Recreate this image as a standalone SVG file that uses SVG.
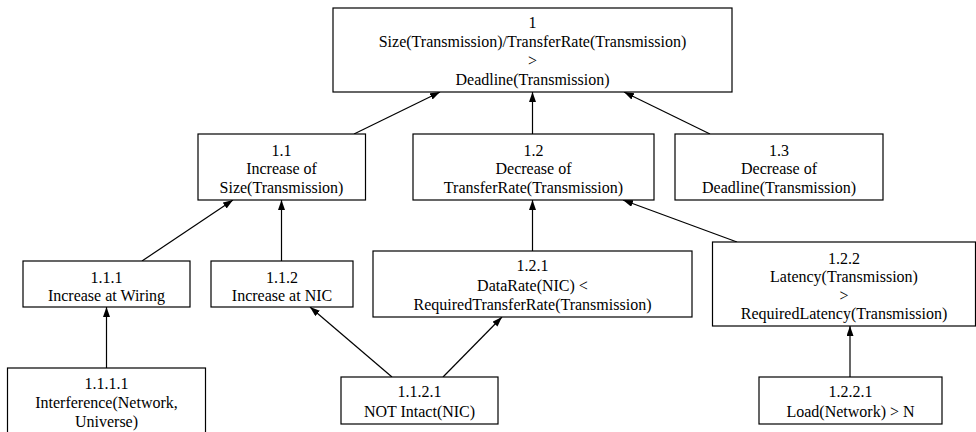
<svg xmlns="http://www.w3.org/2000/svg" width="976" height="432" viewBox="0 0 976 432">
<defs>
<style>
.n rect{fill:#fff;stroke:#000;stroke-width:1.2}
.n text{text-anchor:middle}
.e line{stroke:#000;stroke-width:1.2;marker-end:url(#ah)}
</style>
<marker id="ah" markerUnits="userSpaceOnUse" markerWidth="11" markerHeight="8" refX="10" refY="3.5" orient="auto">
<path d="M0,0 L10,3.5 L0,7 z" fill="#000"/>
</marker>
</defs>
<rect width="976" height="432" fill="#fff"/>
<g id="connectors" class="e">
<line x1="354" y1="134" x2="440" y2="92"/>
<line x1="532.5" y1="134" x2="532.5" y2="92"/>
<line x1="710" y1="134" x2="624" y2="92"/>
<line x1="142" y1="261" x2="233" y2="200"/>
<line x1="281.5" y1="261" x2="281.5" y2="200"/>
<line x1="532.5" y1="251" x2="532.5" y2="200"/>
<line x1="737" y1="242" x2="623" y2="200"/>
<line x1="106.5" y1="368" x2="106.5" y2="307"/>
<line x1="392" y1="377" x2="310" y2="307"/>
<line x1="443" y1="377" x2="502" y2="317"/>
<line x1="850" y1="377" x2="850" y2="326"/>
</g>
<g font-family="'Liberation Serif', 'Times New Roman', 'DejaVu Serif', serif" font-size="16" fill="#000">
<g id="n1" class="n">
<rect x="333" y="8" width="399" height="84"/>
<text x="532.5" y="28">1</text>
<text x="532.5" y="47">Size(Transmission)/TransferRate(Transmission)</text>
<text x="532.5" y="66">&gt;</text>
<text x="532.5" y="85">Deadline(Transmission)</text>
</g>
<g id="n1_1" class="n">
<rect x="198" y="134" width="167.5" height="66"/>
<text x="281.5" y="155.5">1.1</text>
<text x="281.5" y="174">Increase of</text>
<text x="281.5" y="193">Size(Transmission)</text>
</g>
<g id="n1_2" class="n">
<rect x="413" y="134" width="241" height="66"/>
<text x="533.5" y="155.5">1.2</text>
<text x="533.5" y="174">Decrease of</text>
<text x="533.5" y="193">TransferRate(Transmission)</text>
</g>
<g id="n1_3" class="n">
<rect x="675" y="134" width="208" height="66"/>
<text x="779" y="155.5">1.3</text>
<text x="779" y="174">Decrease of</text>
<text x="779" y="193">Deadline(Transmission)</text>
</g>
<g id="n1_1_1" class="n">
<rect x="23" y="261" width="167" height="46"/>
<text x="106.5" y="282.5">1.1.1</text>
<text x="106.5" y="300.5">Increase at Wiring</text>
</g>
<g id="n1_1_2" class="n">
<rect x="211" y="261" width="142" height="46"/>
<text x="282" y="282.5">1.1.2</text>
<text x="282" y="300.5">Increase at NIC</text>
</g>
<g id="n1_2_1" class="n">
<rect x="373" y="251" width="319" height="66"/>
<text x="532.5" y="270.5">1.2.1</text>
<text x="532.5" y="291">DataRate(NIC) &lt;</text>
<text x="532.5" y="310">RequiredTransferRate(Transmission)</text>
</g>
<g id="n1_2_2" class="n">
<rect x="712.5" y="242" width="263" height="84"/>
<text x="844" y="263.5">1.2.2</text>
<text x="844" y="282">Latency(Transmission)</text>
<text x="844" y="300.5">&gt;</text>
<text x="844" y="319">RequiredLatency(Transmission)</text>
</g>
<g id="n1_1_1_1" class="n">
<rect x="7.5" y="368" width="198" height="66"/>
<text x="106.5" y="388.5">1.1.1.1</text>
<text x="106.5" y="408">Interference(Network,</text>
<text x="106.5" y="426.5">Universe)</text>
</g>
<g id="n1_1_2_1" class="n">
<rect x="341" y="377" width="157" height="47"/>
<text x="419.5" y="397">1.1.2.1</text>
<text x="419.5" y="416.5">NOT Intact(NIC)</text>
</g>
<g id="n1_2_2_1" class="n">
<rect x="759" y="377" width="183" height="47"/>
<text x="850.5" y="397">1.2.2.1</text>
<text x="850.5" y="416.5">Load(Network) &gt; N</text>
</g>
</g>
</svg>
